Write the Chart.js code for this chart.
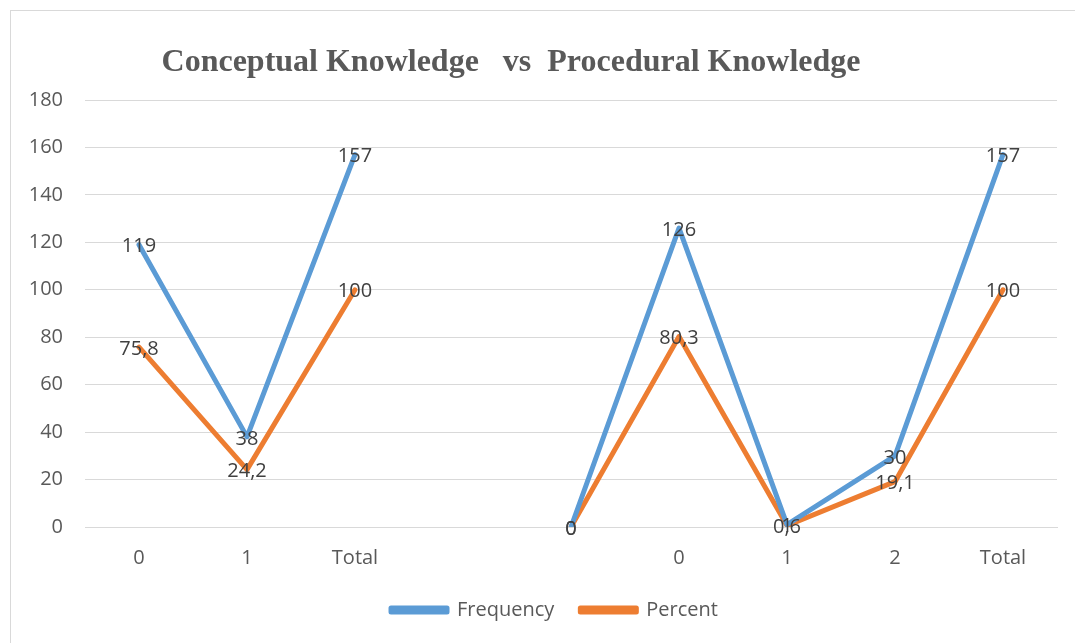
<!DOCTYPE html>
<html>
<head>
<meta charset="utf-8">
<script src="https://cdn.jsdelivr.net/npm/chart.js@4.4.1/dist/chart.umd.min.js"></script>
<style>
  html, body { margin: 0; padding: 0; background: #fff; }
  #wrap { position: relative; width: 1075px; height: 643px; overflow: hidden; }
  #frame { position: absolute; left: 10px; top: 10px; width: 1100px; height: 700px; border: 1px solid #d9d9d9; box-sizing: border-box; }
  #chart { position: absolute; left: 0; top: 0; }
</style>
</head>
<body>
<div id="wrap">
  <div id="frame"></div>
  <canvas id="chart" width="1075" height="643"></canvas>
</div>
<script>
const chartTitle = 'Conceptual Knowledge   vs  Procedural Knowledge';
const categories = ['0', '1', 'Total', '', '', '0', '1', '2', 'Total'];
const frequency = [119, 38, 157, null, 0, 126, 1, 30, 157];
const percent = [75.8, 24.2, 100, null, 0, 80.3, 0.6, 19.1, 100];
const yTicks = { min: 0, max: 180, step: 20 };

const textFont = 'Open Sans';

// draws the value next to every point, centred on it like Excel does
const pointLabels = {
  id: 'pointLabels',
  afterDatasetsDraw(chart) {
    const ctx = chart.ctx;
    ctx.save();
    ctx.fillStyle = '#404040';
    ctx.font = '20px "' + textFont + '"';
    ctx.textAlign = 'center';
    ctx.textBaseline = 'middle';
    chart.data.datasets.forEach((ds, i) => {
      const meta = chart.getDatasetMeta(i);
      ds.data.forEach((v, j) => {
        if (v === null) return;
        const el = meta.data[j];
        ctx.fillText(String(v).replace('.', ','), el.x, el.y + 2);
      });
    });
    ctx.restore();
  }
};

const titleDraw = {
  id: 'titleDraw',
  afterDraw(chart) {
    const ctx = chart.ctx;
    ctx.save();
    ctx.fillStyle = '#595959';
    ctx.font = 'bold 32px "Liberation Serif"';
    ctx.textAlign = 'center';
    ctx.textBaseline = 'middle';
    ctx.fillText(chartTitle, 511, 63);
    ctx.restore();
  }
};

// nudge the legend a bit to the right like the original
const legendShift = {
  id: 'legendShift',
  afterLayout(chart) {
    const lg = chart.legend;
    if (!lg) return;
    lg.left += 26;
    lg.right += 26;
    lg.top -= 3;
    lg.bottom -= 3;
  }
};

new Chart(document.getElementById('chart'), {
  type: 'line',
  data: {
    labels: categories,
    datasets: [
      {
        label: 'Frequency',
        data: frequency,
        borderColor: '#5B9BD5',
        backgroundColor: '#5B9BD5',
        borderWidth: 5,
        pointRadius: 0,
        borderJoinStyle: 'round',
        borderCapStyle: 'round',
        spanGaps: false
      },
      {
        label: 'Percent',
        data: percent,
        borderColor: '#ED7D31',
        backgroundColor: '#ED7D31',
        borderWidth: 5,
        pointRadius: 0,
        borderJoinStyle: 'round',
        borderCapStyle: 'round',
        spanGaps: false
      }
    ]
  },
  options: {
    animation: false,
    responsive: false,
    layout: { padding: { left: 0, right: 18, top: 100, bottom: 10 } },
    plugins: {
      title: { display: false },
      tooltip: { enabled: false },
      legend: {
        position: 'bottom',
        labels: {
          color: '#595959',
          font: { family: textFont, size: 20 },
          boxWidth: 56,
          boxHeight: 4,
          padding: 26
        }
      }
    },
    scales: {
      x: {
        offset: true,
        grid: { display: false, drawTicks: false },
        border: { display: true, color: '#d9d9d9', width: 1 },
        ticks: { color: '#595959', font: { family: textFont, size: 20 }, padding: 19, maxRotation: 0, autoSkip: false },
        afterFit(scale) { scale.height = 50; }
      },
      y: {
        min: yTicks.min,
        max: yTicks.max,
        grid: { color: '#d9d9d9', lineWidth: 1, drawTicks: false },
        border: { display: false },
        ticks: { stepSize: yTicks.step, color: '#595959', font: { family: textFont, size: 20 }, padding: 22 },
        afterFit(scale) { scale.width = 85; }
      }
    }
  },
  plugins: [pointLabels, titleDraw, legendShift]
});
</script>
</body>
</html>
